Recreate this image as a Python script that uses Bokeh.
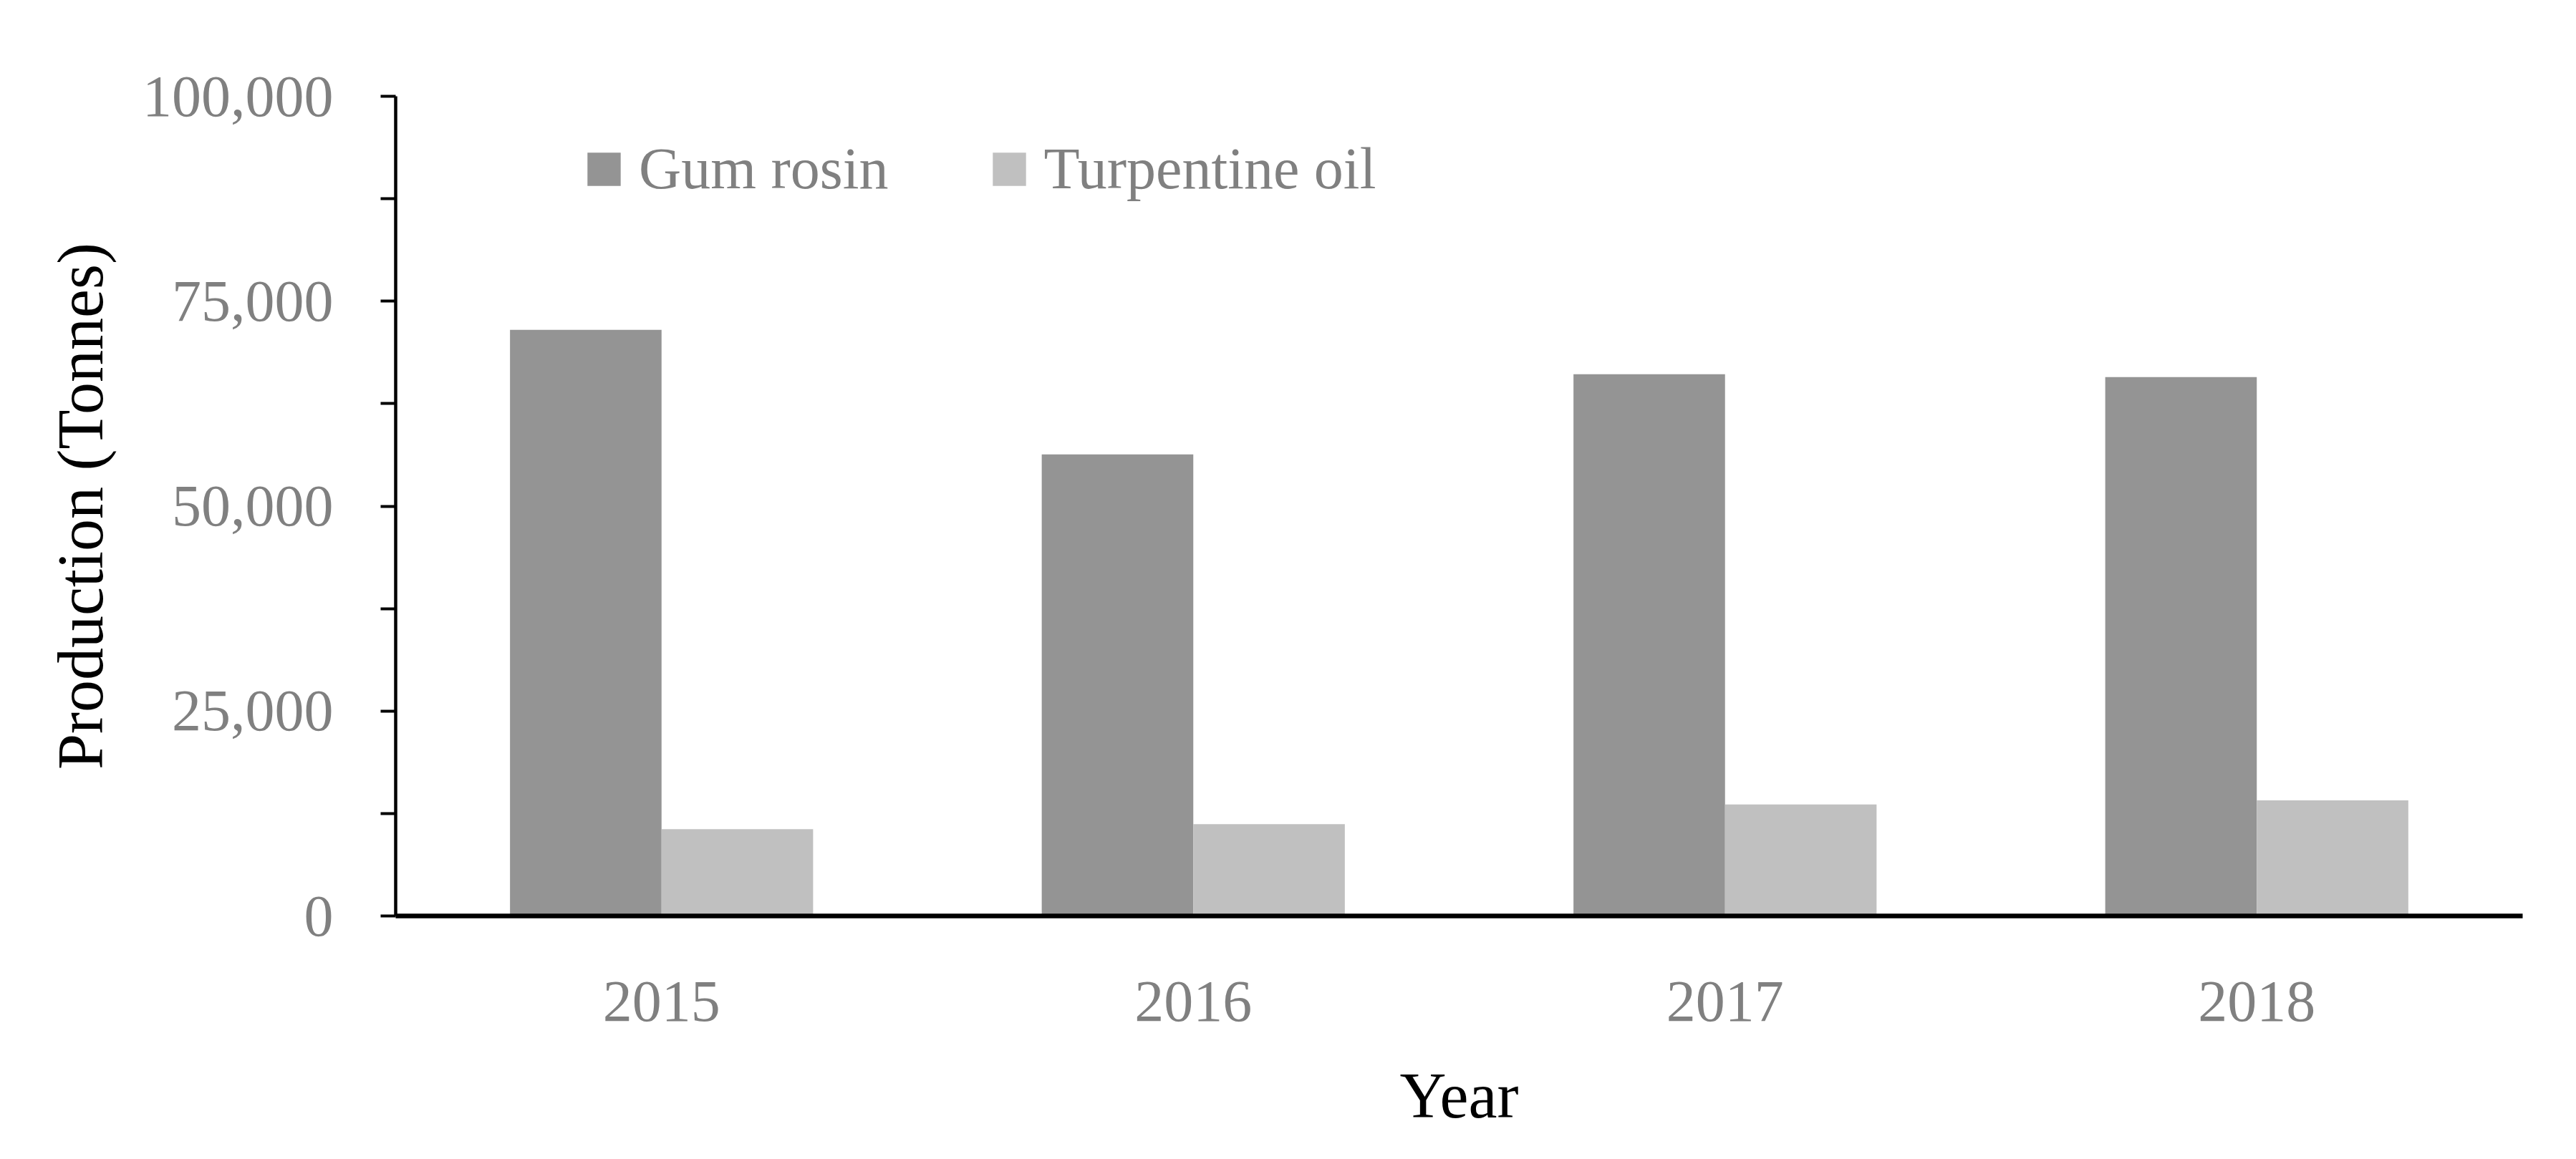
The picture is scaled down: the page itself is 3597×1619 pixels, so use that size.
from bokeh.plotting import figure
from bokeh.models import (ColumnDataSource, FactorRange, Range1d, FixedTicker,
                          NumeralTickFormatter, Legend, LegendItem)
from bokeh.transform import dodge
from bokeh.embed import file_html
from bokeh.resources import INLINE

years = ["2015", "2016", "2017", "2018"]
gum_rosin = [71500, 56300, 66100, 65750]
turpentine_oil = [10600, 11200, 13600, 14100]
series_names = ["Gum rosin", "Turpentine oil"]
y_major = [0, 25000, 50000, 75000, 100000]
y_minor = [12500, 37500, 62500, 87500]

FONT = "Liberation Serif"
GRAY_TXT = "#808080"

src = ColumnDataSource(data=dict(years=years, gum=gum_rosin, turp=turpentine_oil))

p = figure(width=3581, height=1603, x_range=FactorRange(*years, range_padding=0),
           y_range=Range1d(0, 100000), output_backend="svg", toolbar_location=None,
           min_border_left=552, min_border_right=59, min_border_top=134,
           min_border_bottom=324)
p.outline_line_color = None
p.xgrid.visible = False
p.ygrid.visible = False

r1 = p.vbar(x=dodge("years", -0.1425, range=p.x_range), top="gum", width=0.285,
            source=src, fill_color="#949494", line_color=None)
r2 = p.vbar(x=dodge("years", 0.1425, range=p.x_range), top="turp", width=0.285,
            source=src, fill_color="#c0c0c0", line_color=None)

# Y axis
ya = p.yaxis[0]
ya.ticker = FixedTicker(ticks=y_major, minor_ticks=y_minor)
ya.formatter = NumeralTickFormatter(format="0,0")
ya.axis_line_width = 4.5
ya.axis_line_color = "black"
ya.major_tick_line_width = 4
ya.minor_tick_line_width = 4
ya.major_tick_line_color = "black"
ya.minor_tick_line_color = "black"
ya.major_tick_out = 21
ya.major_tick_in = 0
ya.minor_tick_out = 21
ya.minor_tick_in = 0
ya.major_label_text_font = FONT
ya.major_label_text_font_size = "82px"
ya.major_label_text_color = GRAY_TXT
ya.major_label_standoff = 66
ya.axis_label = "Production (Tonnes)"
ya.axis_label_text_font = FONT
ya.axis_label_text_font_size = "90px"
ya.axis_label_text_font_style = "normal"
ya.axis_label_text_color = "black"
ya.axis_label_standoff = 34

# X axis
xa = p.xaxis[0]
xa.axis_line_width = 6.5
xa.axis_line_color = "black"
xa.major_tick_line_color = None
xa.minor_tick_line_color = None
xa.major_tick_out = 0
xa.major_tick_in = 0
xa.major_label_text_font = FONT
xa.major_label_text_font_size = "82px"
xa.major_label_text_color = GRAY_TXT
xa.major_label_standoff = 92
xa.axis_label = "Year"
xa.axis_label_text_font = FONT
xa.axis_label_text_font_size = "90px"
xa.axis_label_text_font_style = "normal"
xa.axis_label_text_color = "black"
xa.axis_label_standoff = 52

legend = Legend(items=[LegendItem(label=series_names[0], renderers=[r1]),
                       LegendItem(label=series_names[1], renderers=[r2])],
                orientation="horizontal", location=(262, 996),
                glyph_width=58, glyph_height=58, label_standoff=20, spacing=139,
                padding=0, margin=0, border_line_color=None,
                background_fill_alpha=0, label_text_font=FONT,
                label_text_font_size="82px", label_text_color=GRAY_TXT)
p.add_layout(legend, "center")

open("out.html", "w").write(file_html(p, INLINE))
